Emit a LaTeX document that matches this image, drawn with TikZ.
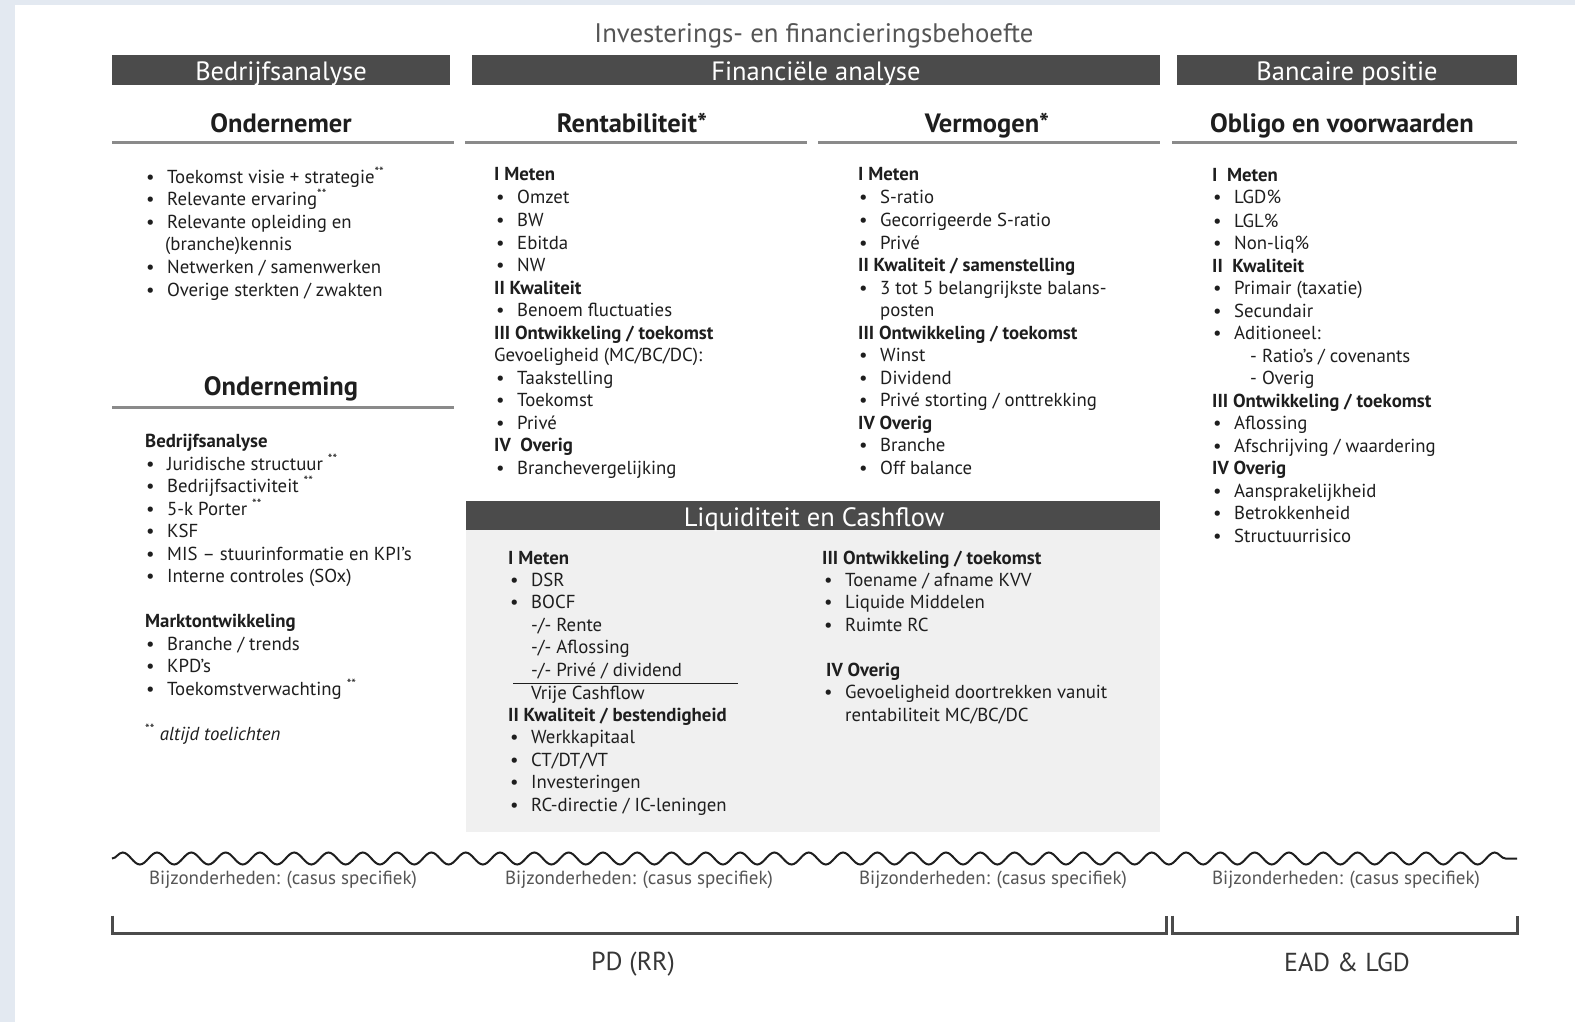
\documentclass[tikz,border=0pt]{standalone}
\usepackage{fontspec}
\setmainfont{PT Sans}
\usetikzlibrary{decorations.pathmorphing}
\definecolor{edge}{HTML}{E3E9F1}
\definecolor{barfill}{HTML}{4B4B4B}
\definecolor{panel}{HTML}{F0F0F0}
\definecolor{rulegray}{HTML}{8A8A8A}
\definecolor{txt}{HTML}{1E1E1E}
\definecolor{soft}{HTML}{555555}
\newcommand{\bul}{\makebox[21pt][l]{\textbullet}}

\begin{document}
\begin{tikzpicture}[x=1pt,y=-1pt]
\tikzstyle{every node}+=[inner sep=0pt, text=txt, yshift=-5.5pt]
\tikzstyle{bar}=[fill=barfill]
\tikzstyle{big}=[anchor=mid, yshift=-2.5pt]
\tikzstyle{bartext}=[big, text=white, font=\fontsize{26.5}{30}\selectfont]
\tikzstyle{head}=[big, font=\bfseries\fontsize{26.5}{30}\selectfont]
\tikzstyle{rule}=[draw=rulegray, line width=3pt]
\tikzstyle{item}=[font=\fontsize{18.8}{22}\selectfont, anchor=mid west]
\tikzstyle{sub}=[item, font=\bfseries\fontsize{18.8}{22}\selectfont]
\tikzstyle{note}=[font=\fontsize{19}{22}\selectfont, text=soft, anchor=mid]
\tikzstyle{bracket}=[draw=barfill, line width=3pt]
\tikzstyle{risk}=[big, font=\fontsize{26}{30}\selectfont, text=soft!65!black]
\useasboundingbox (0,0) rectangle (1575,1022);
\fill[white] (0,0) rectangle (1575,1022);
\fill[edge] (0,0) rectangle (15,1022);
\fill[edge] (0,0) rectangle (1575,5);

% title and bars
\node[big, font=\fontsize{26.8}{30}\selectfont, text=soft] (title) at (814,32) {Investerings- en financieringsbehoefte};
\fill[bar] (112,55) rectangle (450,85);
\node[bartext] (bedr) at (281,70) {Bedrijfsanalyse};
\fill[bar] (472,55) rectangle (1160,85);
\node[bartext] (fin) at (816,70) {Financiële analyse};
\fill[bar] (1177,55) rectangle (1517,85);
\node[bartext] (banc) at (1347,70) {Bancaire positie};

% column heads
\node[head] (ondnr) at (281,122) {Ondernemer};
\draw[rule] (112,143) -- (454,143);
\node[head] (rent) at (632,122) {Rentabiliteit*};
\draw[rule] (465,143) -- (807,143);
\node[head] (verm) at (987,122) {Vermogen*};
\draw[rule] (818,143) -- (1160,143);
\node[head] (obligo) at (1342,122) {Obligo en voorwaarden};
\draw[rule] (1172,143) -- (1517,143);

% ondernemer
\node[item] (o1) at (146,175) {\bul Toekomst visie + strategie\textsuperscript{**}};
\node[item] (o2) at (146,197) {\bul Relevante ervaring\textsuperscript{**}};
\node[item] (o3) at (146,220) {\bul Relevante opleiding en};
\node[item] (o3b) at (165,242) {(branche)kennis};
\node[item] (o4) at (146,265) {\bul Netwerken / samenwerken};
\node[item] (o5) at (146,288) {\bul Overige sterkten / zwakten};

% onderneming
\node[head] (ondng) at (281,385) {Onderneming};
\draw[rule] (112,407) -- (454,407);
\node[sub] (b0) at (145,439) {Bedrijfsanalyse};
\node[item] (b1) at (146,462) {\bul Juridische structuur \textsuperscript{**}};
\node[item] (b2) at (146,484) {\bul Bedrijfsactiviteit \textsuperscript{**}};
\node[item] (b3) at (146,507) {\bul 5-k Porter \textsuperscript{**}};
\node[item] (b4) at (146,529) {\bul KSF};
\node[item] (b5) at (146,552) {\bul MIS – stuurinformatie en KPI’s};
\node[item] (b6) at (146,574) {\bul Interne controles (SOx)};
\node[sub] (m0) at (145,619) {Marktontwikkeling};
\node[item] (m1) at (146,642) {\bul Branche / trends};
\node[item] (m2) at (146,664) {\bul KPD’s};
\node[item] (m3) at (146,687) {\bul Toekomstverwachting \textsuperscript{**}};
\node[item] (star) at (145,732) {\textsuperscript{**} \itshape altijd toelichten};

% rentabiliteit
\node[sub] (r0) at (494,173) {I Meten};
\node[item] (r1) at (496,196) {\bul Omzet};
\node[item] (r2) at (496,218) {\bul BW};
\node[item] (r3) at (496,241) {\bul Ebitda};
\node[item] (r4) at (496,263) {\bul NW};
\node[sub] (r5) at (494,286) {II Kwaliteit};
\node[item] (r6) at (496,308) {\bul Benoem fluctuaties};
\node[sub] (r7) at (494,331) {III Ontwikkeling / toekomst};
\node[item] (r8) at (494,353) {Gevoeligheid (MC/BC/DC):};
\node[item] (r9) at (496,376) {\bul Taakstelling};
\node[item] (r10) at (496,398) {\bul Toekomst};
\node[item] (r11) at (496,421) {\bul Privé};
\node[sub] (r12) at (494,443) {IV\ \ Overig};
\node[item] (r13) at (496,466) {\bul Branchevergelijking};

% vermogen
\node[sub] (v0) at (858,173) {I Meten};
\node[item] (v1) at (859,196) {\bul S-ratio};
\node[item] (v2) at (859,218) {\bul Gecorrigeerde S-ratio};
\node[item] (v3) at (859,241) {\bul Privé};
\node[sub] (v4) at (858,263) {II Kwaliteit / samenstelling};
\node[item] (v5) at (859,286) {\bul 3 tot 5 belangrijkste balans-};
\node[item] (v5b) at (880,308) {posten};
\node[sub] (v6) at (858,331) {III Ontwikkeling / toekomst};
\node[item] (v7) at (859,353) {\bul Winst};
\node[item] (v8) at (859,376) {\bul Dividend};
\node[item] (v9) at (859,398) {\bul Privé storting / onttrekking};
\node[sub] (v10) at (858,421) {IV Overig};
\node[item] (v11) at (859,443) {\bul Branche};
\node[item] (v12) at (859,466) {\bul Off balance};

% obligo
\node[sub] (g0) at (1212,174) {I\ \ Meten};
\node[item] (g1) at (1213,196) {\bul LGD\%};
\node[item] (g2) at (1213,219) {\bul LGL\%};
\node[item] (g3) at (1213,241) {\bul Non-liq\%};
\node[sub] (g4) at (1212,264) {II\ \ Kwaliteit};
\node[item] (g5) at (1213,286) {\bul Primair (taxatie)};
\node[item] (g6) at (1213,309) {\bul Secundair};
\node[item] (g7) at (1213,331) {\bul Aditioneel:};
\node[item] (g8) at (1250,354) {- Ratio’s / covenants};
\node[item] (g9) at (1250,376) {- Overig};
\node[sub] (g10) at (1212,399) {III Ontwikkeling / toekomst};
\node[item] (g11) at (1213,421) {\bul Aflossing};
\node[item] (g12) at (1213,444) {\bul Afschrijving / waardering};
\node[sub] (g13) at (1212,466) {IV Overig};
\node[item] (g14) at (1213,489) {\bul Aansprakelijkheid};
\node[item] (g15) at (1213,511) {\bul Betrokkenheid};
\node[item] (g16) at (1213,534) {\bul Structuurrisico};

% liquiditeit en cashflow
\fill[panel] (466,530) rectangle (1160,832);
\fill[bar] (466,501) rectangle (1160,530);
\node[bartext] (liq) at (814,516) {Liquiditeit en Cashflow};
\node[sub] (l0) at (508,556) {I Meten};
\node[item] (l1) at (510,578) {\bul DSR};
\node[item] (l2) at (510,600) {\bul BOCF};
\node[item] (l3) at (531,623) {-/- Rente};
\node[item] (l4) at (531,645) {-/- Aflossing};
\node[item] (l5) at (531,668) {-/- Privé / dividend};
\coordinate (sumL) at (513,678);
\coordinate (sumR) at (738,678);
\draw[txt, line width=1pt] (sumL) -- (sumR);
\node[item] (l6) at (531,691) {Vrije Cashflow};
\node[sub] (l7) at (508,713) {II Kwaliteit / bestendigheid};
\node[item] (l8) at (510,735) {\bul Werkkapitaal};
\node[item] (l9) at (510,758) {\bul CT/DT/VT};
\node[item] (l10) at (510,780) {\bul Investeringen};
\node[item] (l11) at (510,803) {\bul RC-directie / IC-leningen};
\node[sub] (k0) at (822,556) {III Ontwikkeling / toekomst};
\node[item] (k1) at (824,578) {\bul Toename / afname KVV};
\node[item] (k2) at (824,600) {\bul Liquide Middelen};
\node[item] (k3) at (824,623) {\bul Ruimte RC};
\node[sub] (k4) at (826,668) {IV Overig};
\node[item] (k5) at (824,690) {\bul Gevoeligheid doortrekken vanuit};
\node[item] (k6) at (845,713) {rentabiliteit MC/BC/DC};

% wave and bijzonderheden
\coordinate (waveL) at (112,853);
\coordinate (waveR) at (1517,853);
\draw[txt, line width=2pt, decorate, decoration={snake, segment length=34.3pt, amplitude=6pt}] (waveL) -- (waveR);
\node[note] (n1) at (283,876) {Bijzonderheden: (casus specifiek)};
\node[note] (n2) at (639,876) {Bijzonderheden: (casus specifiek)};
\node[note] (n3) at (993,876) {Bijzonderheden: (casus specifiek)};
\node[note] (n4) at (1346,876) {Bijzonderheden: (casus specifiek)};

% brackets
\coordinate (pdA) at (112,910);
\coordinate (pdB) at (1166,910);
\coordinate (eaA) at (1172,910);
\coordinate (eaB) at (1517,910);
\draw[bracket] (pdA) -- ++(0,18) -| (pdB);
\draw[bracket] (eaA) -- ++(0,18) -| (eaB);
\node[risk] (pd) at (633,960) {PD (RR)};
\node[risk] (ead) at (1347,961) {EAD \& LGD};
\end{tikzpicture}
\end{document}
